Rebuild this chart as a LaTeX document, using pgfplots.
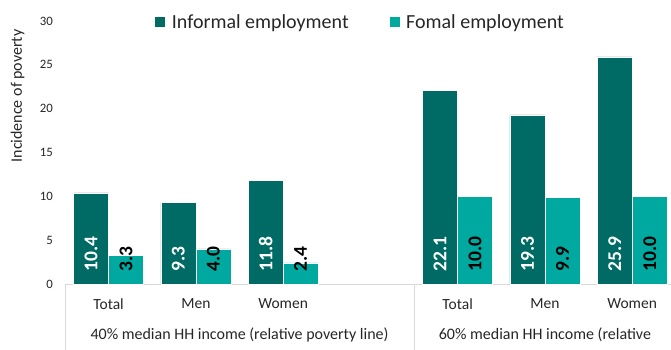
\documentclass[border=0pt]{standalone}
\usepackage{pgfplots}
\pgfplotsset{compat=1.18}
\usepackage{fontspec}
\setmainfont{Carlito}
\definecolor{informal}{HTML}{006B64}
\definecolor{formal}{HTML}{00A99F}
\definecolor{axisgray}{HTML}{D9D9D9}
\definecolor{txt}{HTML}{262626}

\begin{document}
\begin{tikzpicture}
\path[use as bounding box] (-65pt,-66pt) rectangle (606pt,284pt);
\clip (-65pt,-66pt) rectangle (606pt,284pt);
\begin{axis}[
  at={(0,0)}, anchor=south west,
  scale only axis, width=606pt, height=263pt,
  ymin=0, ymax=30, ytick={0,5,...,30},
  xmin=-0.5, xmax=6.445,
  xtick={0,1,2,4,5,6},
  xticklabels={Total,Men,Women,Total,Men,Women},
  axis x line*=bottom, axis y line*=left,
  y axis line style={draw=none},
  x axis line style={draw=axisgray, line width=0.8pt},
  major tick length=0pt,
  ybar=0pt, bar width=35pt,
  clip=false,
  /pgf/number format/assume math mode=true,
  tick label style={text=txt},
  yticklabel style={font=\fontsize{12.8}{14}\selectfont, xshift=-8.7pt},
  xticklabel style={font=\fontsize{15.5}{18}\selectfont, yshift=-11pt},
  ylabel={Incidence of poverty},
  ylabel style={font=\fontsize{16}{18}\selectfont, text=txt, at={(axis description cs:-0.078,0.715)}, anchor=center},
  legend style={at={(axis description cs:0.487,0.996)}, anchor=center, draw=none, fill=none,
    legend columns=2, font=\fontsize{20}{22}\selectfont, text=txt,
    /tikz/every even column/.append style={column sep=38pt}},
  legend image code/.code={\fill[#1] (0pt,-5.5pt) rectangle (11pt,5.5pt); \path (11pt,0pt) -- (15pt,0pt);},
  visualization depends on={rawy \as \rawy},
  nodes near coords={\pgfmathprintnumber[fixed,fixed zerofill,precision=1]{\pgfplotspointmeta}},
  every node near coord/.append style={font=\bfseries\fontsize{19.5}{20}\selectfont,
    shift={(axis direction cs:0,-\rawy)}, yshift=12pt, rotate=90, anchor=west, inner sep=0pt},
]
\addplot[fill=informal, draw=white, line width=0.5pt,
  every node near coord/.append style={text=white}]
  coordinates {(0,10.4) (1,9.3) (2,11.8) (4,22.1) (5,19.3) (6,25.9)};
\addlegendentry{Informal employment}
\addplot[fill=formal, draw=white, line width=0.5pt,
  every node near coord/.append style={text=black}]
  coordinates {(0,3.3) (1,4.0) (2,2.4) (4,10.0) (5,9.9) (6,10.0)};
\addlegendentry{Fomal employment}

\draw[axisgray, line width=0.8pt] (axis cs:-0.5,0) -- ++(0pt,-70pt);
\draw[axisgray, line width=0.8pt] (axis cs:3.5,0) -- ++(0pt,-70pt);
\node[font=\fontsize{16}{19}\selectfont, text=txt, anchor=north]
  at (axis cs:1.5,0) [yshift=-40pt] {40\% median HH income (relative poverty line)};
\node[font=\fontsize{16}{19}\selectfont, text=txt, anchor=north]
  at (axis cs:5,0) [yshift=-40pt] {60\% median HH income (relative};
\end{axis}
\end{tikzpicture}
\end{document}
